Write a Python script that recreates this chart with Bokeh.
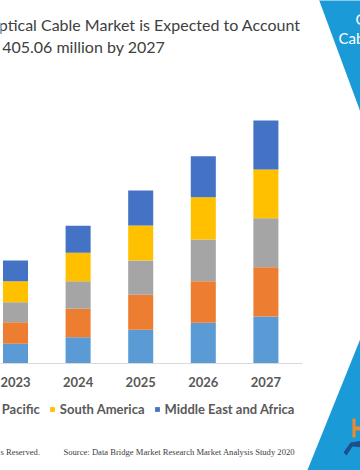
from bokeh.plotting import figure
from bokeh.models import (Range1d, FixedTicker, Label, Legend, LegendItem,
                          PolyAnnotation, ColumnDataSource)
from bokeh.embed import file_html
from bokeh.resources import INLINE

# ---- data (USD million) ----
years = [2023, 2024, 2025, 2026, 2027]
year_labels = ["2023", "2024", "2025", "2026", "2027"]
regions = ["North America", "Europe", "Asia Pacific", "South America",
           "Middle East and Africa"]
north_america = [33.3, 44.3, 56.6, 68.3, 78.7]
europe = [36.0, 47.3, 58.3, 69.3, 82.1]
asia_pacific = [33.3, 46.0, 57.1, 69.4, 81.6]
south_america = [35.0, 47.3, 58.3, 70.4, 81.1]
middle_east_africa = [34.5, 45.0, 58.3, 68.3, 81.6]
colors = ["#5B9BD5", "#ED7D31", "#A5A5A5", "#FFC000", "#4472C4"]

keys = ["na", "eu", "ap", "sa", "mea"]
source = ColumnDataSource(dict(year=years, na=north_america, eu=europe,
                               ap=asia_pacific, sa=south_america,
                               mea=middle_east_africa))

W, H = 360, 470
PX_PER_YEAR = 62.6
UNITS_PER_PX = 1.665
BASE_Y = 363.3          # baseline position from top (px)
X0 = 2023 - 15 / PX_PER_YEAR

p = figure(width=W, height=H,
           x_range=Range1d(X0, X0 + W / PX_PER_YEAR),
           y_range=Range1d(-(H - BASE_Y) * UNITS_PER_PX, BASE_Y * UNITS_PER_PX),
           y_axis_location=None,
           toolbar_location=None, output_backend="svg",
           min_border=0, min_border_left=0, min_border_right=0,
           min_border_top=0, min_border_bottom=0)
p.outline_line_color = None
p.xgrid.visible = False
p.ygrid.visible = False
p.background_fill_color = "white"
p.border_fill_color = "white"

rs = p.vbar_stack(keys, x="year", width=0.4, color=colors, source=source,
                  line_color=None)

ax = p.xaxis[0]
ax.fixed_location = 0
ax.bounds = (X0 - 1, 2027.58)
ax.ticker = FixedTicker(ticks=years)
ax.major_label_overrides = {y: l for y, l in zip(years, year_labels)}
ax.axis_line_color = "#d9d9d9"
ax.major_tick_line_color = None
ax.minor_tick_line_color = None
ax.major_tick_in = 0
ax.major_tick_out = 0
ax.major_label_standoff = 13
ax.major_label_text_font = "Lato"
ax.major_label_text_font_style = "bold"
ax.major_label_text_font_size = "13px"
ax.major_label_text_color = "#595959"


def sy(y_from_top):
    return H - y_from_top


# legend (leftmost items fall off the page edge, as in the source image)
legend = Legend(items=[LegendItem(label=n, renderers=[r]) for n, r in zip(regions, rs)],
                orientation="horizontal", location=(-203, sy(417)),
                glyph_width=6, glyph_height=6, label_standoff=5, spacing=9,
                padding=0, margin=0, label_height=14,
                label_text_font="Lato", label_text_font_style="bold",
                label_text_font_size="13px", label_text_color="#595959",
                border_line_color=None, background_fill_alpha=0)
p.add_layout(legend)

# title (left part cut off by the page edge, as in the source image)
p.add_layout(Label(x=300, y=sy(33.3), x_units="screen", y_units="screen",
                   text="Global Optical Cable Market is Expected to Account",
                   text_align="right", text_font="Lato", text_font_size="16px",
                   text_color="#404040"))
p.add_layout(Label(x=165, y=sy(55), x_units="screen", y_units="screen",
                   text="for USD 405.06 million by 2027",
                   text_align="right", text_font="Lato", text_font_size="16px",
                   text_color="#404040"))

# right decorative banners
blue = "#1b9ad8"
p.add_layout(PolyAnnotation(xs=[318, 362, 362], ys=[sy(-2), sy(-2), sy(117)],
                            xs_units="screen", ys_units="screen",
                            fill_color=blue, fill_alpha=1, line_color=None))
p.add_layout(PolyAnnotation(xs=[362, 362, 306], ys=[sy(333), sy(472), sy(472)],
                            xs_units="screen", ys_units="screen",
                            fill_color=blue, fill_alpha=1, line_color=None))
p.add_layout(Label(x=355, y=sy(27), x_units="screen", y_units="screen",
                   text="Global", text_font="Lato", text_font_size="15px",
                   text_color="white"))
p.add_layout(Label(x=338, y=sy(46), x_units="screen", y_units="screen",
                   text="Cable Market", text_font="Lato", text_font_size="15px",
                   text_color="white"))
# logo
p.add_layout(PolyAnnotation(xs=[352, 355, 355, 362, 362, 355, 355, 352],
                            ys=[sy(418), sy(418), sy(426), sy(426), sy(430), sy(430), sy(437), sy(437)],
                            xs_units="screen", ys_units="screen",
                            fill_color="#f08a24", fill_alpha=1, line_color=None))
p.add_layout(PolyAnnotation(xs=[343, 350, 362, 362, 352, 346],
                            ys=[sy(452), sy(442), sy(440), sy(447), sy(446), sy(455)],
                            xs_units="screen", ys_units="screen",
                            fill_color="#1f4e8c", fill_alpha=1, line_color=None))

# footer
p.add_layout(Label(x=40, y=sy(456), x_units="screen", y_units="screen",
                   text="Copyright \u00a9 Data Bridge Market Research. All Rights Reserved.",
                   text_align="right", text_font="Liberation Serif",
                   text_font_size="8.6px", text_color="#404040"))
p.add_layout(Label(x=63, y=sy(456), x_units="screen", y_units="screen",
                   text="Source: Data Bridge Market Research Market Analysis Study 2020",
                   text_font="Liberation Serif", text_font_size="8.6px",
                   text_color="#404040"))

open("out.html", "w").write(file_html(p, INLINE))
